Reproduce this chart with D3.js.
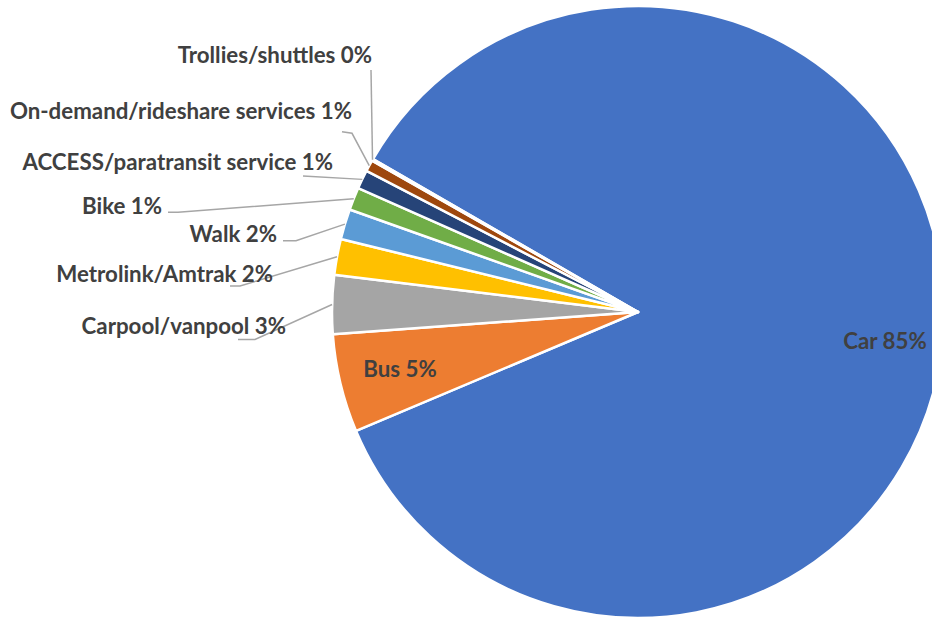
<!DOCTYPE html>
<html><head><meta charset="utf-8">
<script src="https://cdn.jsdelivr.net/npm/d3@7"></script>
<style>body{margin:0;background:#fff}svg{display:block}</style>
</head><body>
<script>
const categories = ["Car","Bus","Carpool/vanpool","Metrolink/Amtrak","Walk","Bike","ACCESS/paratransit service","On-demand/rideshare services","Trollies/shuttles"];
const values = [85.4,5.2,3.1,1.9,1.6,1.2,1.0,0.6,0.1];
const percentLabels = ["85%","5%","3%","2%","2%","1%","1%","1%","0%"];
const colors = ["#4472C4","#ED7D31","#A5A5A5","#FFC000","#5B9BD5","#70AD47","#264478","#9E480E","#636363"];

const W=932,H=618, cx=638, cy=312, R=306;
const svg=d3.select("body").append("svg").attr("width",W).attr("height",H);
const g=svg.append("g").attr("transform",`translate(${cx},${cy})`);
const start=-60*Math.PI/180;
const pie=d3.pie().sort(null).startAngle(start).endAngle(start+2*Math.PI);
const arcs=pie(values);
const arc=d3.arc().innerRadius(0).outerRadius(R);
g.selectAll("path.s").data(arcs).join("path").attr("class","s")
  .attr("d",arc).attr("fill",(d,i)=>colors[i]).attr("stroke","#fff").attr("stroke-width",2.5).attr("stroke-linejoin","round");

// label layout (text right-end x, baseline y) for outside labels
const outside = {
  2:{tx:286,ty:334,elbow:[[238,339.5],[255,339.5]]},
  3:{tx:273,ty:282,elbow:[[230,286],[240,286]]},
  4:{tx:277,ty:242,elbow:[[283,240.7],[296,240.7]]},
  5:{tx:162,ty:214,elbow:[[168,212.3],[178,212.3]]},
  6:{tx:333,ty:170,elbow:[[303,176],[303,176]]},
  7:{tx:352,ty:119,elbow:[[342,131.7],[352,133.3]]},
  8:{tx:372,ty:63,elbow:[[371,70],[371,70]]}
};
const font="Lato, 'Open Sans', sans-serif";
const fs=22.3;
arcs.forEach((d,i)=>{
  const label=categories[i]+" "+percentLabels[i];
  if(outside[i]){
    const o=outside[i];
    const mid=(d.startAngle+d.endAngle)/2;
    const px=cx+R*Math.sin(mid), py=cy-R*Math.cos(mid);
    const pts=[...o.elbow,[px,py]];
    svg.append("path").attr("d",d3.line()(pts)).attr("fill","none").attr("stroke","#A6A6A6").attr("stroke-width",1.5);
    svg.append("text").attr("x",o.tx).attr("y",o.ty).attr("text-anchor","end")
      .attr("font-family",font).attr("font-weight","bold").attr("font-size",fs).attr("fill","#404040").text(label);
  } else {
    let x,y;
    if(i===0){x=885;y=349;} else {const c=d3.arc().innerRadius(0).outerRadius(R*1.6).centroid(d);x=cx+c[0];y=cy+c[1]+8;}
    svg.append("text").attr("x",x).attr("y",y).attr("text-anchor","middle")
      .attr("font-family",font).attr("font-weight","bold").attr("font-size",fs).attr("fill","#404040").text(label);
  }
});
</script>
</body></html>
